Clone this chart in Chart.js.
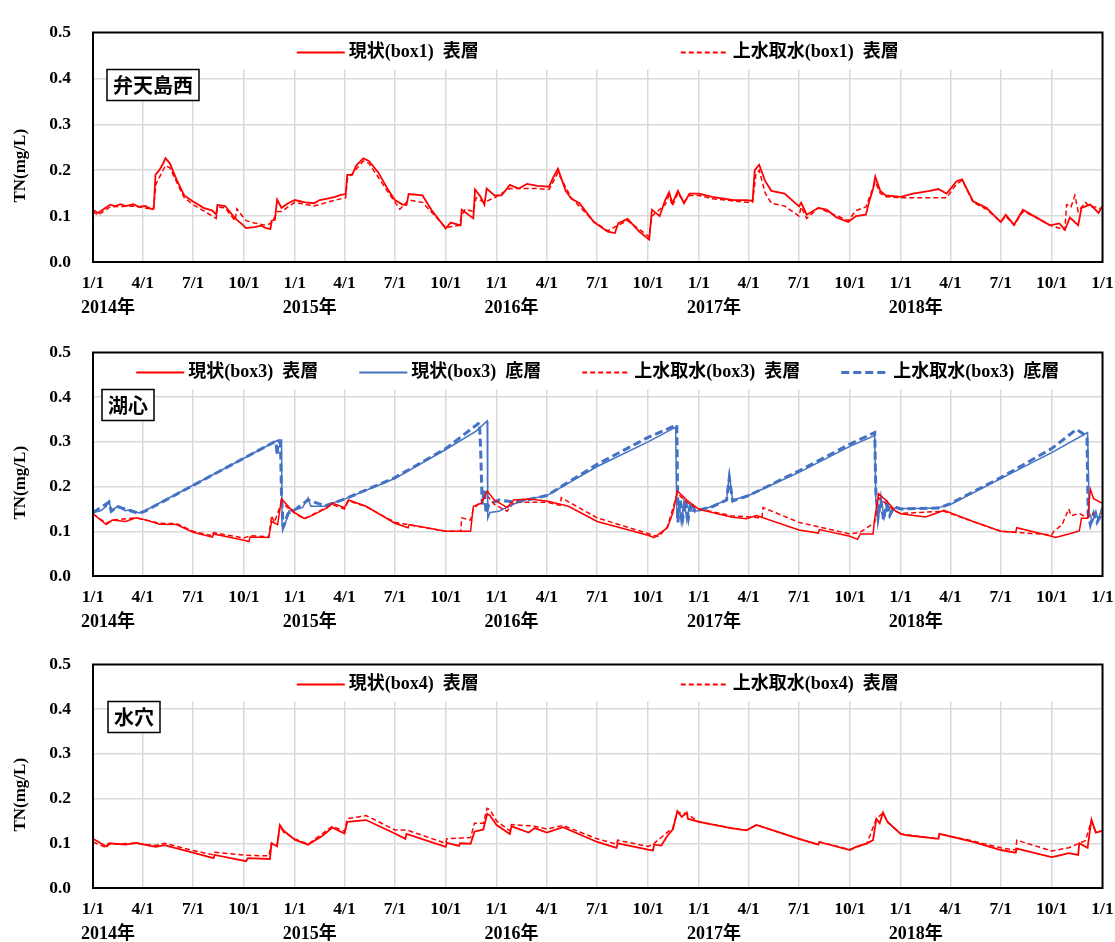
<!DOCTYPE html>
<html>
<head>
<meta charset="utf-8">
<script src="https://cdn.jsdelivr.net/npm/chart.js@4.4.1/dist/chart.umd.min.js"></script>
<style>
    html, body { margin: 0; padding: 0; background: #fff; }
    #wrap { position: relative; width: 1115px; height: 942px; }
    .panel { position: absolute; left: 0; width: 1115px; }
</style>
</head>
<body>
<div id="wrap">
    <div class="panel" style="top:0;height:320px"><canvas id="c1"></canvas></div>
    <div class="panel" style="top:320px;height:312px"><canvas id="c2"></canvas></div>
    <div class="panel" style="top:632px;height:310px"><canvas id="c3"></canvas></div>
</div>
<script>
// 日付は 'YY-M-D'、値は TN (mg/L)
const years = [2014, 2015, 2016, 2017, 2018];
const tickMonths = [1, 4, 7, 10];

// 弁天島西 (box1)
const box1Now = [
    ['14-1-1', 0.114], ['14-1-10', 0.107], ['14-1-20', 0.115], ['14-2-1', 0.125], ['14-2-10', 0.122],
    ['14-2-20', 0.126], ['14-3-1', 0.122], ['14-3-15', 0.126], ['14-3-25', 0.12], ['14-4-5', 0.122],
    ['14-4-18', 0.115], ['14-4-21', 0.117], ['14-4-24', 0.19], ['14-5-1', 0.2], ['14-5-8', 0.215],
    ['14-5-12', 0.226], ['14-5-20', 0.215], ['14-6-1', 0.18], ['14-6-15', 0.145], ['14-7-1', 0.132],
    ['14-7-20', 0.118], ['14-8-5', 0.112], ['14-8-12', 0.103], ['14-8-14', 0.124], ['14-8-28', 0.122],
    ['14-9-15', 0.095], ['14-9-28', 0.082], ['14-10-5', 0.074], ['14-10-20', 0.076], ['14-11-1', 0.079],
    ['14-11-10', 0.074], ['14-11-18', 0.072], ['14-11-20', 0.09], ['14-11-26', 0.092], ['14-11-30', 0.136],
    ['14-12-8', 0.118], ['14-12-20', 0.128], ['15-1-1', 0.135], ['15-1-20', 0.13], ['15-2-5', 0.128],
    ['15-2-15', 0.135], ['15-3-1', 0.138], ['15-3-15', 0.142], ['15-3-25', 0.146], ['15-4-3', 0.148],
    ['15-4-6', 0.19], ['15-4-15', 0.19], ['15-4-22', 0.21], ['15-5-5', 0.226], ['15-5-15', 0.22],
    ['15-6-1', 0.195], ['15-6-20', 0.155], ['15-7-1', 0.135], ['15-7-15', 0.125], ['15-7-22', 0.124],
    ['15-7-26', 0.148], ['15-8-20', 0.145], ['15-9-5', 0.114], ['15-10-1', 0.073], ['15-10-10', 0.086],
    ['15-10-28', 0.08], ['15-10-30', 0.114], ['15-11-20', 0.095], ['15-11-23', 0.158], ['15-12-3', 0.142],
    ['15-12-10', 0.125], ['15-12-14', 0.16], ['15-12-28', 0.145], ['16-1-10', 0.145], ['16-1-25', 0.168],
    ['16-2-10', 0.16], ['16-2-25', 0.17], ['16-3-15', 0.166], ['16-4-5', 0.164], ['16-4-12', 0.183],
    ['16-4-21', 0.203], ['16-5-5', 0.155], ['16-5-15', 0.138], ['16-5-30', 0.128], ['16-6-25', 0.087],
    ['16-7-20', 0.066], ['16-8-2', 0.063], ['16-8-8', 0.084], ['16-8-25', 0.094], ['16-9-15', 0.066],
    ['16-10-3', 0.049], ['16-10-8', 0.114], ['16-10-22', 0.1], ['16-11-1', 0.135], ['16-11-8', 0.152],
    ['16-11-14', 0.128], ['16-11-24', 0.155], ['16-12-5', 0.128], ['16-12-15', 0.149], ['17-1-1', 0.149],
    ['17-1-25', 0.142], ['17-3-5', 0.135], ['17-3-28', 0.135], ['17-4-8', 0.133], ['17-4-12', 0.2],
    ['17-4-20', 0.212], ['17-5-1', 0.176], ['17-5-12', 0.155], ['17-6-5', 0.149], ['17-7-1', 0.121],
    ['17-7-5', 0.129], ['17-7-15', 0.103], ['17-8-5', 0.118], ['17-8-20', 0.114], ['17-9-7', 0.097],
    ['17-9-28', 0.087], ['17-10-12', 0.1], ['17-10-30', 0.103], ['17-11-5', 0.132], ['17-11-12', 0.159],
    ['17-11-16', 0.186], ['17-11-25', 0.155], ['17-12-5', 0.145], ['18-1-1', 0.142], ['18-1-23', 0.149],
    ['18-2-23', 0.155], ['18-3-10', 0.159], ['18-3-25', 0.149], ['18-4-12', 0.176], ['18-4-22', 0.18],
    ['18-5-12', 0.132], ['18-6-5', 0.118], ['18-7-1', 0.087], ['18-7-10', 0.103], ['18-7-25', 0.081],
    ['18-8-10', 0.114], ['18-8-30', 0.1], ['18-9-28', 0.08], ['18-10-15', 0.084], ['18-10-25', 0.07],
    ['18-11-3', 0.097], ['18-11-18', 0.08], ['18-11-24', 0.118], ['18-12-10', 0.125], ['18-12-25', 0.107],
    ['18-12-31', 0.121]
];
const box1Intake = [
    ['14-1-1', 0.11], ['14-1-10', 0.102], ['14-2-1', 0.12], ['14-3-15', 0.122], ['14-4-20', 0.115],
    ['14-4-25', 0.17], ['14-5-12', 0.21], ['14-5-20', 0.205], ['14-6-1', 0.175], ['14-6-15', 0.14],
    ['14-7-1', 0.125], ['14-8-12', 0.095], ['14-8-14', 0.12], ['14-8-28', 0.118], ['14-9-15', 0.09],
    ['14-9-18', 0.116], ['14-9-25', 0.105], ['14-10-5', 0.09], ['14-10-20', 0.085], ['14-11-10', 0.08],
    ['14-11-20', 0.085], ['14-12-1', 0.11], ['14-12-8', 0.11], ['14-12-20', 0.12], ['15-1-1', 0.13],
    ['15-2-5', 0.122], ['15-3-15', 0.135], ['15-4-3', 0.14], ['15-4-6', 0.18], ['15-5-5', 0.22],
    ['15-5-15', 0.215], ['15-6-20', 0.15], ['15-7-10', 0.115], ['15-7-26', 0.135], ['15-8-20', 0.13],
    ['15-10-1', 0.075], ['15-10-25', 0.08], ['15-10-30', 0.1], ['15-11-5', 0.115], ['15-11-20', 0.11],
    ['15-11-25', 0.14], ['15-12-10', 0.13], ['15-12-28', 0.14], ['16-1-25', 0.16], ['16-3-15', 0.16],
    ['16-4-5', 0.158], ['16-4-21', 0.195], ['16-5-15', 0.14], ['16-6-25', 0.088], ['16-7-20', 0.068],
    ['16-8-8', 0.08], ['16-8-25', 0.09], ['16-10-3', 0.055], ['16-10-8', 0.1], ['16-11-1', 0.125],
    ['16-11-8', 0.145], ['16-11-14', 0.122], ['16-11-24', 0.15], ['16-12-5', 0.13], ['16-12-15', 0.145],
    ['17-1-1', 0.145], ['17-1-25', 0.138], ['17-3-28', 0.13], ['17-4-8', 0.13], ['17-4-14', 0.19],
    ['17-4-20', 0.2], ['17-5-1', 0.15], ['17-5-12', 0.128], ['17-6-5', 0.122], ['17-7-1', 0.1],
    ['17-7-5', 0.12], ['17-7-15', 0.095], ['17-8-5', 0.118], ['17-9-28', 0.09], ['17-10-12', 0.112],
    ['17-10-30', 0.12], ['17-11-16', 0.175], ['17-11-25', 0.15], ['17-12-5', 0.142], ['18-1-1', 0.14],
    ['18-1-23', 0.14], ['18-2-23', 0.14], ['18-3-25', 0.14], ['18-4-12', 0.17], ['18-4-22', 0.178],
    ['18-5-12', 0.13], ['18-6-5', 0.115], ['18-7-1', 0.088], ['18-7-10', 0.1], ['18-7-25', 0.08],
    ['18-8-10', 0.11], ['18-8-30', 0.1], ['18-9-28', 0.08], ['18-10-25', 0.07], ['18-10-28', 0.125],
    ['18-11-5', 0.12], ['18-11-12', 0.145], ['18-11-18', 0.11], ['18-12-1', 0.13], ['18-12-10', 0.12],
    ['18-12-20', 0.12], ['18-12-31', 0.115]
];

// 湖心 (box3)
const box3NowTop = [
    ['14-1-1', 0.139], ['14-1-25', 0.115], ['14-2-5', 0.125], ['14-3-1', 0.122], ['14-3-20', 0.13],
    ['14-4-8', 0.125], ['14-5-1', 0.116], ['14-6-1', 0.115], ['14-7-1', 0.098], ['14-8-5', 0.087],
    ['14-8-7', 0.094], ['14-10-1', 0.08], ['14-10-10', 0.077], ['14-10-12', 0.087], ['14-11-15', 0.086],
    ['14-11-20', 0.122], ['14-12-1', 0.115], ['14-12-8', 0.173], ['14-12-22', 0.153], ['15-1-1', 0.142],
    ['15-1-18', 0.129], ['15-2-1', 0.135], ['15-3-1', 0.153], ['15-3-10', 0.163], ['15-4-1', 0.153],
    ['15-4-8', 0.17], ['15-5-10', 0.156], ['15-7-1', 0.118], ['15-7-25', 0.108], ['15-7-27', 0.115],
    ['15-10-1', 0.1], ['15-10-25', 0.1], ['15-11-15', 0.1], ['15-11-20', 0.156], ['15-12-5', 0.163],
    ['15-12-15', 0.19], ['15-12-28', 0.17], ['16-1-20', 0.153], ['16-2-1', 0.17], ['16-2-28', 0.172],
    ['16-4-1', 0.168], ['16-5-10', 0.156], ['16-7-1', 0.122], ['16-10-1', 0.091], ['16-10-12', 0.086],
    ['16-11-5', 0.108], ['16-11-15', 0.142], ['16-11-23', 0.19], ['16-12-10', 0.17], ['17-1-1', 0.149],
    ['17-2-28', 0.132], ['17-3-28', 0.128], ['17-4-15', 0.135], ['17-7-1', 0.103], ['17-8-5', 0.096],
    ['17-8-7', 0.104], ['17-10-1', 0.089], ['17-10-15', 0.082], ['17-10-20', 0.094], ['17-11-12', 0.094],
    ['17-11-15', 0.129], ['17-11-22', 0.184], ['17-12-8', 0.166], ['17-12-22', 0.146], ['18-1-1', 0.139],
    ['18-2-15', 0.132], ['18-3-10', 0.142], ['18-3-20', 0.147], ['18-5-12', 0.122], ['18-7-1', 0.1],
    ['18-7-28', 0.098], ['18-7-30', 0.108], ['18-10-1', 0.089], ['18-10-8', 0.086], ['18-11-1', 0.094],
    ['18-11-20', 0.101], ['18-11-24', 0.129], ['18-12-5', 0.129], ['18-12-10', 0.194], ['18-12-16', 0.173],
    ['18-12-31', 0.163]
];
const box3NowBottom = [
    ['14-1-1', 0.142], ['14-1-15', 0.146], ['14-1-25', 0.156], ['14-1-30', 0.168], ['14-2-3', 0.146],
    ['14-2-15', 0.156], ['14-2-28', 0.146], ['14-3-10', 0.148], ['14-3-25', 0.141], ['14-4-5', 0.146],
    ['14-12-2', 0.304], ['14-12-8', 0.304], ['14-12-9', 0.112], ['14-12-13', 0.11], ['14-12-22', 0.146],
    ['15-1-1', 0.148], ['15-1-15', 0.153], ['15-1-25', 0.175], ['15-1-30', 0.156], ['15-2-25', 0.156],
    ['15-3-10', 0.163], ['15-4-1', 0.172], ['15-7-1', 0.218], ['15-10-1', 0.283], ['15-11-25', 0.324],
    ['15-12-15', 0.347], ['15-12-16', 0.129], ['15-12-20', 0.142], ['16-1-5', 0.145], ['16-2-5', 0.163],
    ['16-2-28', 0.172], ['16-4-1', 0.18], ['16-7-1', 0.245], ['16-10-1', 0.3], ['16-11-20', 0.333],
    ['16-11-22', 0.129], ['16-11-26', 0.16], ['16-11-30', 0.12], ['16-12-5', 0.17], ['16-12-10', 0.125],
    ['16-12-15', 0.16], ['16-12-20', 0.145], ['17-1-1', 0.146], ['17-1-25', 0.156], ['17-2-20', 0.17],
    ['17-2-25', 0.228], ['17-3-3', 0.17], ['17-4-1', 0.18], ['17-7-1', 0.232], ['17-10-1', 0.29],
    ['17-11-15', 0.314], ['17-11-17', 0.17], ['17-11-22', 0.135], ['17-11-27', 0.17], ['17-12-2', 0.13],
    ['17-12-8', 0.165], ['17-12-14', 0.14], ['17-12-22', 0.153], ['18-1-1', 0.151], ['18-2-15', 0.151],
    ['18-3-10', 0.153], ['18-4-1', 0.16], ['18-7-1', 0.218], ['18-10-1', 0.276], ['18-12-5', 0.321],
    ['18-12-8', 0.142], ['18-12-14', 0.122], ['18-12-20', 0.145], ['18-12-24', 0.125], ['18-12-31', 0.153]
];
const box3IntakeTop = [
    ['14-1-1', 0.139], ['14-1-25', 0.118], ['14-2-5', 0.125], ['14-3-20', 0.13], ['14-5-1', 0.118],
    ['14-6-1', 0.117], ['14-7-1', 0.1], ['14-8-5', 0.09], ['14-8-7', 0.097], ['14-10-1', 0.085],
    ['14-10-12', 0.09], ['14-11-15', 0.088], ['14-11-20', 0.135], ['14-11-25', 0.12], ['14-12-8', 0.165],
    ['14-12-22', 0.15], ['15-1-1', 0.14], ['15-1-18', 0.128], ['15-3-10', 0.16], ['15-4-1', 0.15],
    ['15-4-8', 0.168], ['15-5-10', 0.155], ['15-7-1', 0.12], ['15-10-1', 0.1], ['15-10-28', 0.1],
    ['15-10-30', 0.13], ['15-11-15', 0.125], ['15-11-20', 0.15], ['15-12-15', 0.18], ['15-12-28', 0.16],
    ['16-1-20', 0.145], ['16-2-1', 0.165], ['16-2-28', 0.165], ['16-4-1', 0.165], ['16-4-25', 0.158],
    ['16-4-27', 0.175], ['16-7-1', 0.13], ['16-10-1', 0.095], ['16-10-20', 0.088], ['16-11-5', 0.11],
    ['16-11-23', 0.185], ['16-12-10', 0.165], ['17-1-1', 0.15], ['17-2-28', 0.135], ['17-4-25', 0.13],
    ['17-4-27', 0.153], ['17-7-1', 0.12], ['17-10-1', 0.094], ['17-10-20', 0.098], ['17-11-15', 0.12],
    ['17-11-22', 0.175], ['17-12-22', 0.145], ['18-1-1', 0.14], ['18-3-20', 0.145], ['18-7-1', 0.1],
    ['18-10-1', 0.092], ['18-10-5', 0.1], ['18-10-20', 0.115], ['18-10-25', 0.13], ['18-11-1', 0.15],
    ['18-11-5', 0.135], ['18-11-20', 0.14], ['18-12-5', 0.13], ['18-12-10', 0.14], ['18-12-31', 0.14]
];
const box3IntakeBottom = [
    ['14-1-1', 0.142], ['14-1-30', 0.165], ['14-2-3', 0.145], ['14-2-15', 0.155], ['14-3-25', 0.14],
    ['14-4-5', 0.145], ['14-11-25', 0.3], ['14-11-28', 0.3], ['14-11-30', 0.27], ['14-12-2', 0.3],
    ['14-12-6', 0.3], ['14-12-8', 0.18], ['14-12-11', 0.11], ['14-12-20', 0.14], ['15-1-1', 0.148],
    ['15-1-25', 0.17], ['15-2-25', 0.157], ['15-4-1', 0.172], ['15-7-1', 0.22], ['15-10-1', 0.285],
    ['15-12-1', 0.343], ['15-12-3', 0.29], ['15-12-6', 0.16], ['15-12-10', 0.195], ['15-12-13', 0.14],
    ['15-12-18', 0.16], ['16-1-5', 0.17], ['16-2-5', 0.165], ['16-4-1', 0.18], ['16-7-1', 0.25],
    ['16-10-1', 0.31], ['16-11-22', 0.338], ['16-11-24', 0.12], ['16-11-28', 0.17], ['16-12-3', 0.13],
    ['16-12-8', 0.17], ['16-12-13', 0.13], ['16-12-18', 0.165], ['16-12-25', 0.145], ['17-1-25', 0.155],
    ['17-2-20', 0.17], ['17-2-25', 0.22], ['17-3-3', 0.168], ['17-4-1', 0.18], ['17-7-1', 0.235],
    ['17-10-1', 0.295], ['17-11-15', 0.321], ['17-11-17', 0.19], ['17-11-21', 0.13], ['17-11-26', 0.17],
    ['17-12-1', 0.125], ['17-12-6', 0.16], ['17-12-12', 0.135], ['17-12-20', 0.155], ['18-1-1', 0.15],
    ['18-3-10', 0.152], ['18-4-1', 0.162], ['18-7-1', 0.22], ['18-10-1', 0.285], ['18-11-15', 0.328],
    ['18-11-25', 0.32], ['18-12-4', 0.31], ['18-12-6', 0.14], ['18-12-10', 0.115], ['18-12-16', 0.14],
    ['18-12-22', 0.12], ['18-12-31', 0.14]
];

// 水穴 (box4)
const box4Now = [
    ['14-1-1', 0.11], ['14-1-25', 0.093], ['14-1-30', 0.1], ['14-3-1', 0.097], ['14-3-20', 0.101],
    ['14-4-15', 0.094], ['14-4-25', 0.092], ['14-5-10', 0.096], ['14-7-1', 0.079], ['14-8-7', 0.067],
    ['14-8-9', 0.074], ['14-10-5', 0.06], ['14-10-8', 0.067], ['14-11-17', 0.065], ['14-11-20', 0.1],
    ['14-11-30', 0.093], ['14-12-5', 0.141], ['14-12-12', 0.128], ['15-1-1', 0.108], ['15-1-25', 0.097],
    ['15-2-20', 0.117], ['15-3-10', 0.135], ['15-4-1', 0.122], ['15-4-6', 0.148], ['15-5-10', 0.152],
    ['15-7-1', 0.122], ['15-7-20', 0.11], ['15-7-22', 0.121], ['15-10-1', 0.092], ['15-10-3', 0.101],
    ['15-10-25', 0.094], ['15-10-27', 0.1], ['15-11-15', 0.099], ['15-11-22', 0.126], ['15-12-8', 0.131],
    ['15-12-15', 0.166], ['15-12-20', 0.162], ['16-1-1', 0.141], ['16-1-25', 0.121], ['16-1-28', 0.138],
    ['16-2-28', 0.124], ['16-3-10', 0.134], ['16-4-1', 0.124], ['16-4-30', 0.136], ['16-7-1', 0.103],
    ['16-8-5', 0.09], ['16-8-7', 0.1], ['16-10-1', 0.086], ['16-10-10', 0.084], ['16-10-12', 0.097],
    ['16-10-25', 0.095], ['16-11-5', 0.117], ['16-11-15', 0.131], ['16-11-23', 0.172], ['16-12-1', 0.159],
    ['16-12-10', 0.169], ['16-12-12', 0.155], ['17-1-1', 0.148], ['17-2-28', 0.134], ['17-3-28', 0.129],
    ['17-4-15', 0.141], ['17-7-1', 0.11], ['17-8-5', 0.097], ['17-8-7', 0.103], ['17-10-1', 0.085],
    ['17-10-12', 0.092], ['17-11-1', 0.1], ['17-11-12', 0.107], ['17-11-18', 0.155], ['17-11-24', 0.145],
    ['17-11-30', 0.169], ['17-12-8', 0.148], ['18-1-1', 0.121], ['18-1-12', 0.118], ['18-3-10', 0.11],
    ['18-3-12', 0.121], ['18-5-12', 0.103], ['18-7-1', 0.085], ['18-7-28', 0.079], ['18-7-30', 0.088],
    ['18-10-1', 0.069], ['18-10-12', 0.072], ['18-11-1', 0.078], ['18-11-18', 0.074], ['18-11-20', 0.1],
    ['18-12-5', 0.09], ['18-12-12', 0.153], ['18-12-20', 0.124], ['18-12-31', 0.128]
];
const box4Intake = [
    ['14-1-1', 0.103], ['14-1-25', 0.09], ['14-1-30', 0.098], ['14-3-20', 0.1], ['14-4-25', 0.095],
    ['14-5-10', 0.1], ['14-7-1', 0.084], ['14-8-7', 0.074], ['14-8-9', 0.08], ['14-10-5', 0.073],
    ['14-11-15', 0.072], ['14-11-20', 0.1], ['14-11-30', 0.095], ['14-12-5', 0.138], ['14-12-12', 0.125],
    ['15-1-1', 0.11], ['15-1-25', 0.098], ['15-3-10', 0.138], ['15-4-1', 0.127], ['15-4-6', 0.155],
    ['15-5-10', 0.162], ['15-7-1', 0.13], ['15-7-22', 0.13], ['15-10-1', 0.1], ['15-10-3', 0.11],
    ['15-11-15', 0.113], ['15-11-22', 0.145], ['15-12-8', 0.145], ['15-12-15', 0.178], ['15-12-20', 0.175],
    ['16-1-1', 0.15], ['16-1-25', 0.128], ['16-1-28', 0.142], ['16-3-10', 0.138], ['16-4-1', 0.132],
    ['16-4-30', 0.14], ['16-7-1', 0.11], ['16-8-5', 0.098], ['16-8-7', 0.107], ['16-10-1', 0.093],
    ['16-10-12', 0.1], ['16-11-15', 0.135], ['16-11-23', 0.17], ['16-12-10', 0.166], ['17-1-1', 0.148],
    ['17-2-28', 0.134], ['17-3-28', 0.129], ['17-4-15', 0.141], ['17-7-1', 0.11], ['17-8-5', 0.097],
    ['17-8-7', 0.103], ['17-10-1', 0.086], ['17-11-1', 0.1], ['17-11-18', 0.155], ['17-11-30', 0.168],
    ['17-12-8', 0.148], ['18-1-1', 0.121], ['18-3-10', 0.11], ['18-3-12', 0.121], ['18-5-12', 0.105],
    ['18-7-1', 0.09], ['18-7-28', 0.085], ['18-7-30', 0.107], ['18-10-1', 0.083], ['18-11-1', 0.09],
    ['18-12-1', 0.106], ['18-12-12', 0.15], ['18-12-20', 0.124], ['18-12-31', 0.128]
];

const RED = '#ff0000';
const BLUE = '#4472c4';
const SERIF = '"Liberation Serif", "Noto Sans CJK JP", serif';
const LEGEND_FONT = 'bold 18px ' + SERIF;

function dayOf(y, m, d) {
    return (Date.UTC(y, m - 1, d) - Date.UTC(2014, 0, 1)) / 864e5;
}
function pts(arr) {
    return arr.map(function (p) {
        const s = p[0].split('-').map(Number);
        return { x: dayOf(2000 + s[0], s[1], s[2]), y: p[1] };
    });
}

const quarterTicks = [];
years.forEach(function (y) {
    tickMonths.forEach(function (m) { quarterTicks.push(dayOf(y, m, 1)); });
});
quarterTicks.push(dayOf(2019, 1, 1));
const DAY_END = dayOf(2019, 1, 1);

function tickLabel(v) {
    const d = new Date(Date.UTC(2014, 0, 1) + v * 864e5);
    return (d.getUTCMonth() + 1) + '/' + d.getUTCDate();
}

const framePlugin = {
    id: 'frame',
    beforeDatasetsDraw(chart, args, opts) {
        const a = chart.chartArea;
        const ctx = chart.ctx;
        ctx.save();
        ctx.fillStyle = '#fff';
        ctx.fillRect(a.left, a.top, a.right - a.left, opts.legendH);
        ctx.restore();
    },
    afterDraw(chart, args, opts) {
        const a = chart.chartArea;
        const ctx = chart.ctx;
        const xs = chart.scales.x;
        ctx.save();

        // 凡例
        ctx.font = LEGEND_FONT;
        const items = chart.data.datasets.map(function (ds) {
            return { ds: ds, w: ctx.measureText(ds.label).width };
        });
        const total = items.reduce(function (s, it) { return s + 52 + it.w; }, 0) + opts.legendGap * (items.length - 1);
        let x = (a.left + a.right) / 2 - total / 2;
        const ly = a.top + 20;
        items.forEach(function (it) {
            ctx.strokeStyle = it.ds.borderColor;
            ctx.lineWidth = Math.max(it.ds.borderWidth, 1.8);
            ctx.setLineDash(it.ds.borderDash || []);
            ctx.beginPath();
            ctx.moveTo(x, ly);
            ctx.lineTo(x + 48, ly);
            ctx.stroke();
            ctx.setLineDash([]);
            ctx.fillStyle = '#000';
            ctx.textAlign = 'left';
            ctx.textBaseline = 'middle';
            ctx.fillText(it.ds.label, x + 52, ly);
            x += 52 + it.w + opts.legendGap;
        });

        // 地点名
        ctx.font = 'bold 20px "Noto Sans CJK JP", sans-serif';
        const sw = ctx.measureText(opts.station).width + 12;
        const sx = a.left + opts.stationX;
        const sy = a.top + opts.legendH;
        ctx.fillStyle = '#fff';
        ctx.fillRect(sx, sy, sw, 31);
        ctx.strokeStyle = '#000';
        ctx.lineWidth = 1.5;
        ctx.strokeRect(sx, sy, sw, 31);
        ctx.fillStyle = '#000';
        ctx.textAlign = 'left';
        ctx.fillText(opts.station, sx + 6, sy + 16);

        // 枠
        ctx.lineWidth = 2;
        ctx.strokeRect(a.left, a.top, a.right - a.left, a.bottom - a.top);

        // 縦軸タイトル
        ctx.font = 'bold 17px ' + SERIF;
        ctx.save();
        ctx.translate(21, (a.top + opts.legendH + a.bottom) / 2);
        ctx.rotate(-Math.PI / 2);
        ctx.textAlign = 'center';
        ctx.fillText('TN(mg/L)', 0, 0);
        ctx.restore();

        // 年ラベル
        ctx.font = 'bold 18px ' + SERIF;
        ctx.textAlign = 'center';
        years.forEach(function (y) {
            ctx.fillText(y + '年', xs.getPixelForValue(dayOf(y, 1, 1)) + 15, a.bottom + 46);
        });
        ctx.restore();
    }
};

function line(label, data, color, width, dash) {
    return {
        label: label,
        data: pts(data),
        borderColor: color,
        backgroundColor: color,
        borderWidth: width,
        borderDash: dash,
        pointRadius: 0,
        tension: 0,
        fill: false
    };
}

function makeChart(id, datasets, cfg) {
    new Chart(document.getElementById(id), {
        type: 'line',
        data: { datasets: datasets },
        options: {
            responsive: true,
            maintainAspectRatio: false,
            animation: false,
            layout: { padding: { top: cfg.padTop, right: 12.5, left: 0, bottom: 0 } },
            plugins: {
                legend: { display: false },
                tooltip: { enabled: false },
                frame: { legendH: 37, legendGap: cfg.legendGap, station: cfg.station, stationX: cfg.stationX }
            },
            scales: {
                x: {
                    type: 'linear',
                    min: 0,
                    max: DAY_END,
                    afterBuildTicks: function (s) { s.ticks = quarterTicks.map(function (v) { return { value: v }; }); },
                    afterFit: function (s) { s.height = cfg.axisH; },
                    border: { display: false },
                    grid: { color: '#d9d9d9', lineWidth: 1.5, drawTicks: false },
                    ticks: {
                        autoSkip: false,
                        maxRotation: 0,
                        padding: 0,
                        color: '#000',
                        font: { family: SERIF, size: 17.5, weight: 'bold', lineHeight: '43px' },
                        callback: tickLabel
                    }
                },
                y: {
                    min: 0,
                    max: 0.5,
                    afterFit: function (s) { s.width = 93; },
                    border: { display: false },
                    grid: { color: '#d9d9d9', lineWidth: 1.5, drawTicks: false },
                    ticks: {
                        stepSize: 0.1,
                        padding: 22,
                        color: '#000',
                        font: { family: SERIF, size: 17.5, weight: 'bold' },
                        callback: function (v) { return v.toFixed(1); }
                    }
                }
            }
        },
        plugins: [framePlugin]
    });
}

makeChart('c1', [
    line('現状(box1)  表層', box1Now, RED, 1.8, []),
    line('上水取水(box1)  表層', box1Intake, RED, 1.5, [5, 3])
], { padTop: 19, axisH: 58, legendGap: 202, station: '弁天島西', stationX: 14 });

makeChart('c2', [
    line('現状(box3)  表層', box3NowTop, RED, 1.5, []),
    line('現状(box3)  底層', box3NowBottom, BLUE, 1.5, []),
    line('上水取水(box3)  表層', box3IntakeTop, RED, 1.5, [5, 3]),
    line('上水取水(box3)  底層', box3IntakeBottom, BLUE, 3, [8, 4])
], { padTop: 13, axisH: 56, legendGap: 41, station: '湖心', stationX: 9 });

makeChart('c3', [
    line('現状(box4)  表層', box4Now, RED, 1.8, []),
    line('上水取水(box4)  表層', box4Intake, RED, 1.5, [5, 3])
], { padTop: 15, axisH: 54, legendGap: 202, station: '水穴', stationX: 15 });
</script>
</body>
</html>
